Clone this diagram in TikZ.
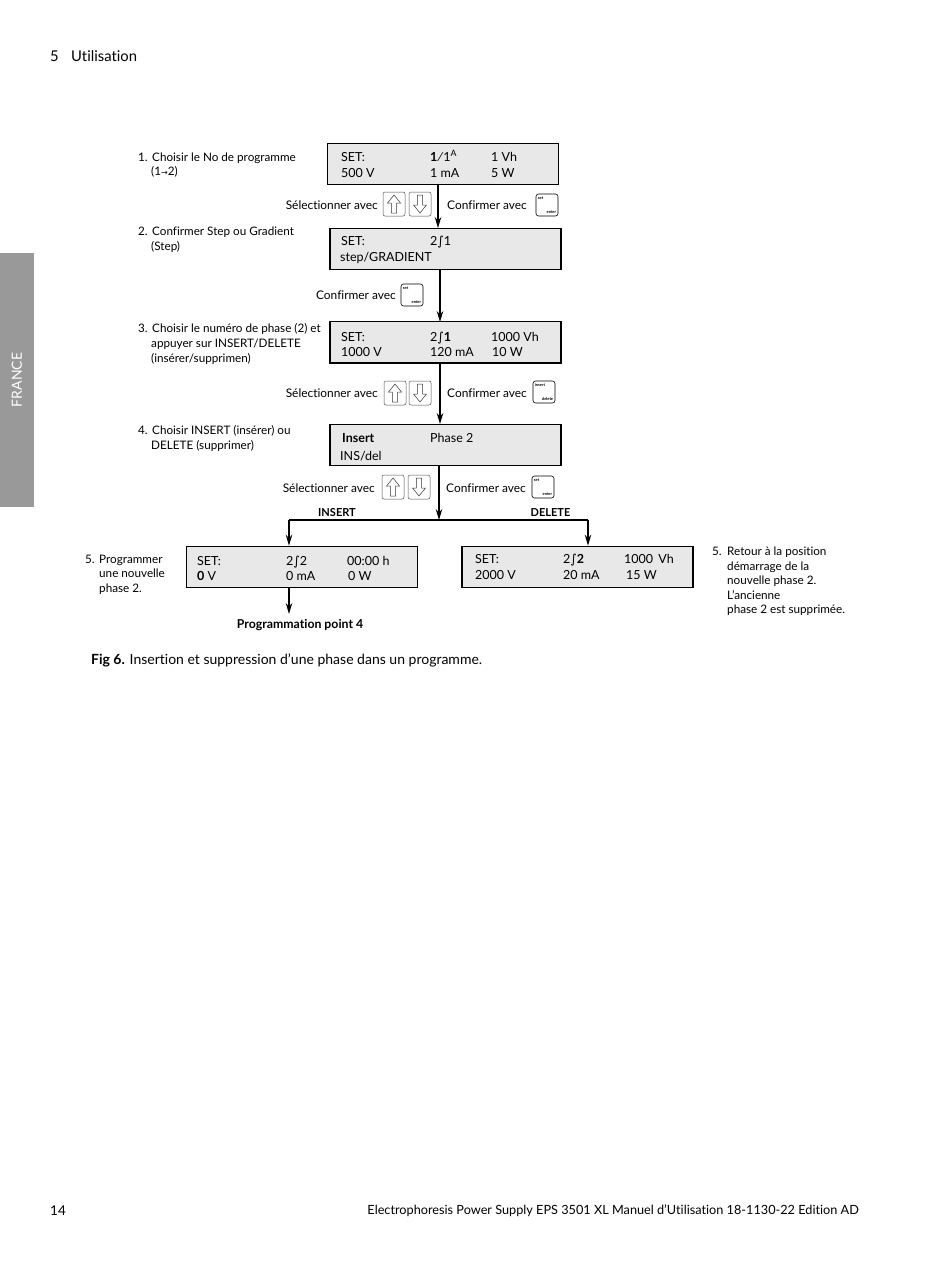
\documentclass[tikz,border=0pt]{standalone}
\usepackage{fontspec}
\setmainfont{Lato}[Ligatures=NoCommon]
\newfontfamily\symfont{DejaVu Sans}
\usetikzlibrary{arrows.meta}
\newcommand{\stepsign}{{\symfont\fontsize{12.5}{12.5}\selectfont ∫}}
\tikzset{
  flow/.style={line width=1.1pt, -{Stealth[length=11pt,width=6.5pt]}},
  display/.style={draw=black, line width=1.2pt, fill=black!9, minimum width=231pt, minimum height=41.5pt, inner sep=0pt},
  lcd/.style={anchor=west, inner sep=0pt, text height=10pt, text depth=0pt, font=\fontsize{12.5}{14}\selectfont},
  word/.style={inner sep=0pt, text height=10pt, text depth=0pt, font=\fontsize{11.9}{14}\selectfont},
  note/.style={anchor=north west, align=left, inner sep=0pt, yshift=-0.8pt, font=\fontsize{11.7}{14.6}\selectfont, execute at begin node={\strut}},
  notetext/.style={note, yshift=-1.4pt},
  arrowkey/.style={draw=black!70, line width=0.5pt, rounded corners=2pt, minimum width=22pt, minimum height=24pt, inner sep=0pt},
  enterkey/.style={draw=black, line width=0.6pt, rounded corners=2.5pt, minimum width=22pt, minimum height=22pt, inner sep=0pt},
  keytext/.style={inner sep=0pt, font=\bfseries\fontsize{4}{4}\selectfont},
  pics/uparrow/.style={code={\draw[draw=black!80, line width=0.5pt, line join=miter] (0,-9) -- (6.5,-1) -- (2.7,-1) -- (2.7,9) -- (-2.7,9) -- (-2.7,-1) -- (-6.5,-1) -- cycle;}},
  pics/downarrow/.style={code={\draw[draw=black!80, line width=0.5pt, line join=miter] (0,9) -- (6.5,1) -- (2.7,1) -- (2.7,-9) -- (-2.7,-9) -- (-2.7,1) -- (-6.5,1) -- cycle;}},
}
\begin{document}
\begin{tikzpicture}[x=1pt, y=-1pt]
  \useasboundingbox (0,0) rectangle (950,1266);
  % page furniture
  \node[fill=black!40, minimum width=33.5pt, minimum height=254pt, inner sep=0pt] (side) at (16.75,380) {};
  \node[rotate=90, text=white, inner sep=0pt, font=\fontsize{14}{16}\selectfont] (france) at (side) {FRANCE};
  \node[lcd, font=\fontsize{14.8}{17}\selectfont] (chapnum) at (50,56) {5};
  \node[lcd, font=\fontsize{14.8}{17}\selectfont] (chapter) at (71,56) {Utilisation};
  \node[lcd, font=\fontsize{13.5}{16}\selectfont] (pagenum) at (50,1210) {14};
  \node[lcd, anchor=east, font=\fontsize{12.7}{16}\selectfont] (footer) at (859,1209) {Electrophoresis Power Supply EPS 3501 XL Manuel d’Utilisation 18-1130-22 Edition AD};

  % displays
  \node[display] (disp1) at (443.25,164) {};
  \node[display] (disp2) at (445.5,249) {};
  \node[display] (disp3) at (445.5,342.25) {};
  \node[display] (disp4) at (445.5,445) {};
  \node[display] (disp5) at (302,567) {};
  \node[display] (disp6) at (577.5,567) {};

  \node[lcd] (a1) at (341,156) {SET:};
  \node[lcd] (a2) at (430,156) {\textbf{1}∕1\textsuperscript{A}};
  \node[lcd] (a3) at (491,156) {1 Vh};
  \node[lcd] (a4) at (341,172.5) {500 V};
  \node[lcd] (a5) at (430,172.5) {1 mA};
  \node[lcd] (a6) at (491,172.5) {5 W};

  \node[lcd] (b1) at (341,240) {SET:};
  \node[lcd] (b2) at (430,240) {2\stepsign 1};
  \node[lcd] (b3) at (340,256) {step/GRADIENT};

  \node[lcd] (c1) at (341,336) {SET:};
  \node[lcd] (c2) at (430,336) {2\stepsign\textbf{1}};
  \node[lcd] (c3) at (491,336) {1000 Vh};
  \node[lcd] (c4) at (341,351.5) {1000 V};
  \node[lcd] (c5) at (430,351.5) {120 mA};
  \node[lcd] (c6) at (492,351.5) {10 W};

  \node[lcd] (d1) at (342,437) {\textbf{Insert}};
  \node[lcd] (d2) at (430,437) {Phase 2};
  \node[lcd] (d3) at (340,455) {INS/del};

  \node[lcd] (e1) at (197,560) {SET:};
  \node[lcd] (e2) at (286,560) {2\stepsign 2};
  \node[lcd] (e3) at (347,560) {00:00 h};
  \node[lcd] (e4) at (197,575.5) {\textbf{0} V};
  \node[lcd] (e5) at (286,575.5) {0 mA};
  \node[lcd] (e6) at (348,575.5) {0 W};

  \node[lcd] (f1) at (475,558.5) {SET:};
  \node[lcd] (f2) at (563,558.5) {2\stepsign\textbf{2}};
  \node[lcd] (f3) at (624,558.5) {1000\, Vh};
  \node[lcd] (f4) at (475,574) {2000 V};
  \node[lcd] (f5) at (563,574) {20 mA};
  \node[lcd] (f6) at (626,574) {15 W};

  % connectors
  \coordinate (in2) at (438,228);
  \coordinate (in3) at (440,322);
  \coordinate (in4) at (440,424);
  \coordinate (fork) at (439,520);
  \coordinate (forkl) at (289,520);
  \coordinate (forkr) at (588,520);
  \coordinate (out5) at (289,614);
  \node[word, font=\bfseries\fontsize{12.3}{14}\selectfont] (prog) at (300,623) {Programmation point 4};
  \draw[flow] (in2 |- disp1.south) -- (in2);
  \draw[flow] (in3 |- disp2.south) -- (in3);
  \draw[flow] (in4 |- disp3.south) -- (in4);
  \draw[flow] (fork |- disp4.south) -- (fork);
  \draw[line width=1.1pt] (forkl) -- (forkr);
  \draw[flow] (forkl) -- (forkl |- disp5.north);
  \draw[flow] (forkr) -- (forkr |- disp6.north);
  \draw[flow] (forkl |- disp5.south) -- (out5);
  \node[word, font=\bfseries\fontsize{11}{14}\selectfont] (ins) at (337,511) {INSERT};
  \node[word, font=\bfseries\fontsize{11}{14}\selectfont] (del) at (550.5,511) {DELETE};

  % keys, row by row
  \foreach \nm/\upx/\downx/\rowy in {r1/394/420/204, r3/395/420/393, r4/393/419/487} {
    \node[arrowkey] (up\nm) at (\upx,\rowy) {};
    \node[arrowkey] (down\nm) at (\downx,\rowy) {};
    \pic at (up\nm) {uparrow};
    \pic at (down\nm) {downarrow};
  }
  \foreach \nm/\keyx/\rowy/\toptxt/\bottxt in {r1/547/205/set/enter, r2/412/295/set/enter, r3/544/392/insert/delete, r4/543/487/set/enter} {
    \node[enterkey] (key\nm) at (\keyx,\rowy) {};
    \node[keytext, anchor=north west] (top\nm) at ([shift={(2,3)}]key\nm.north west) {\toptxt};
    \node[keytext, anchor=south east] (bot\nm) at ([shift={(-2,-3)}]key\nm.south east) {\bottxt};
  }
  \node[word, anchor=east] (sel1) at (378,204) {Sélectionner avec};
  \node[word, anchor=west] (conf1) at (447,204) {Confirmer avec};
  \node[word, anchor=east] (conf2) at (396,294) {Confirmer avec};
  \node[word, anchor=east] (sel3) at (378,392) {Sélectionner avec};
  \node[word, anchor=west] (conf3) at (447,392) {Confirmer avec};
  \node[word, anchor=east] (sel4) at (375,487) {Sélectionner avec};
  \node[word, anchor=west] (conf4) at (446,487) {Confirmer avec};

  % steps
  \node[note] (num1) at (138,150) {1.};
  \node[notetext] (step1) at (152,150) {Choisir le No de programme\\\hspace{-1pt}(1{\symfont\fontsize{8}{8}\selectfont →}2)};
  \node[note] (num2) at (138,224.5) {2.};
  \node[notetext] (step2) at (152,224.5) {Confirmer Step ou Gradient\\\hspace{-1pt}(Step)};
  \node[note] (num3) at (138,321.5) {3.};
  \node[notetext] (step3) at (152,321.5) {Choisir le numéro de phase (2) et\\\hspace{-1pt}appuyer sur INSERT/DELETE\\\hspace{-1pt}(insérer/supprimen)};
  \node[note] (num4) at (138,423.5) {4.};
  \node[notetext] (step4) at (152,423.5) {Choisir INSERT (insérer) ou\\\hspace{-1pt}DELETE (supprimer)};
  \node[note] (num5) at (85,552.5) {5.};
  \node[notetext] (step5) at (99,552.5) {Programmer\\une nouvelle\\phase 2.};
  \node[note] (num6) at (712,544.5) {5.};
  \node[notetext] (step6) at (727,544.5) {Retour à la position\\démarrage de la\\nouvelle phase 2.\\L’ancienne\\phase 2 est supprimée.};

  \node[lcd, font=\fontsize{14}{16}\selectfont] (caption) at (91,659.5) {\textbf{Fig 6.} Insertion et suppression d’une phase dans un programme.};
\end{tikzpicture}
\end{document}
